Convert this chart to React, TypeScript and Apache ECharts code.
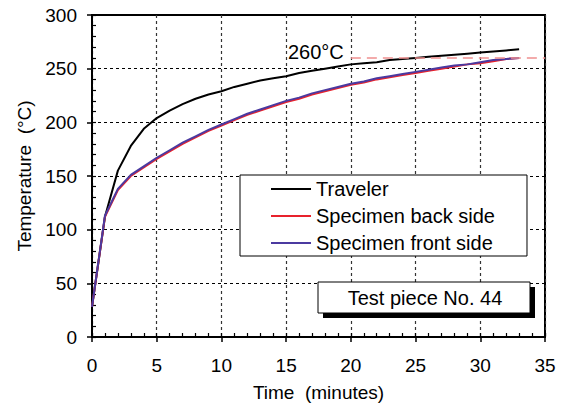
import React, { useEffect, useRef } from "react";
import * as echarts from "echarts";

const minutes = [0,1,2,3,4,5,6,7,8,9,10,11,12,13,14,15,16,17,18,19,20,21,22,23,24,25,26,27,28,29,30,31,32,33];
const traveler = [28,112,155,178,194,204,211,217,222,226,229,233,236,239,241,243,246,248,250,252,254,255,256,258,259,260,261,262,263,264,265,266,267,268];
const backSide = [28,112,137,150,158,166,173,180,186,192,197,202,207,211,215,219,222,226,229,232,235,237,240,242,244,246,248,250,252,254,255,257,259,260];
const frontSide = [28,113,138,151,159,167,174,181,187,193,198,203,208,212,216,220,223,227,230,233,236,238,241,243,245,247,249,251,253,254,256,258,259,260];
const seriesNames = ["Traveler", "Specimen back side", "Specimen front side"];
const refLevel = 260;
const refStart = 20;
const refEnd = 35;
const refLabel = "260°C";
const boxText = "Test piece No. 44";

const FONT = "Liberation Sans, Arial, sans-serif";

export default function App() {
  const ref = useRef<HTMLDivElement>(null);
  useEffect(() => {
    if (!ref.current) return;
    const chart = echarts.init(ref.current, undefined, { renderer: "svg" });
    const pair = (ys: number[]) => minutes.map((m, i) => [m, ys[i]]);
    chart.setOption({
      animation: false,
      textStyle: { fontFamily: FONT },
      grid: { left: 92, right: 17, top: 15, bottom: 72, show: true, borderColor: "#000", borderWidth: 2, backgroundColor: "transparent" },
      xAxis: [
        {
          type: "value", min: 0, max: 35, interval: 5,
          name: "Time  (minutes)", nameLocation: "middle", nameGap: 46,
          nameTextStyle: { fontSize: 19, color: "#000", fontFamily: FONT },
          axisLine: { show: true, lineStyle: { color: "#000", width: 2 } },
          axisTick: { show: true, inside: false, length: 5, lineStyle: { color: "#000", width: 1.5 } },
          axisLabel: { fontSize: 19, color: "#000", margin: 19, fontFamily: FONT },
          splitLine: { show: true, lineStyle: { color: "#333", type: [3, 3], width: 1.2 } },
        },
        {
          type: "value", min: 0, max: 35, interval: 1, position: "bottom",
          axisLine: { show: false }, axisLabel: { show: false }, splitLine: { show: false },
          axisTick: { show: true, inside: true, length: 4, lineStyle: { color: "#000", width: 1.2 } },
        },
      ],
      yAxis: [
        {
          type: "value", min: 0, max: 300, interval: 50,
          name: "Temperature  (°C)", nameLocation: "middle", nameGap: 58, nameRotate: 90,
          nameTextStyle: { fontSize: 19, color: "#000", fontFamily: FONT },
          axisLine: { show: true, lineStyle: { color: "#000", width: 2 } },
          axisTick: { show: true, inside: false, length: 5, lineStyle: { color: "#000", width: 1.5 } },
          axisLabel: { fontSize: 19, color: "#000", margin: 15, fontFamily: FONT },
          splitLine: { show: true, lineStyle: { color: "#000", type: [3, 3], width: 1 } },
        },
        {
          type: "value", min: 0, max: 300, interval: 10, position: "left",
          axisLine: { show: false }, axisLabel: { show: false }, splitLine: { show: false },
          axisTick: { show: true, inside: true, length: 4, lineStyle: { color: "#000", width: 1.2 } },
        },
      ],
      legend: {
        show: true, orient: "vertical", left: 240, top: 175,
        data: seriesNames,
        icon: "rect", itemWidth: 40, itemHeight: 2, itemGap: 7,
        padding: [4, 32, 3, 31],
        backgroundColor: "#fff", borderColor: "#000", borderWidth: 1,
        textStyle: { fontSize: 20, color: "#000", fontFamily: FONT },
      },
      series: [
        { name: seriesNames[0], type: "line", data: pair(traveler), symbol: "none", lineStyle: { color: "#000", width: 2 }, itemStyle: { color: "#000" }, z: 3 },
        {
          name: seriesNames[1], type: "line", data: pair(backSide), symbol: "none", lineStyle: { color: "#e8222c", width: 2 }, itemStyle: { color: "#e8222c" }, z: 3,
          markLine: {
            silent: true, symbol: "none", label: { show: false },
            lineStyle: { color: "#f09090", type: [10, 6], width: 1.5 },
            data: [[{ coord: [refStart, refLevel] }, { coord: [refEnd, refLevel] }]],
          },
        },
        { name: seriesNames[2], type: "line", data: pair(frontSide), symbol: "none", lineStyle: { color: "#4b3aa0", width: 2 }, itemStyle: { color: "#4b3aa0" }, z: 4 },
      ],
      graphic: [
        { type: "text", left: 288, top: 42, z: 10, style: { text: refLabel, fontSize: 20, fill: "#000", fontFamily: FONT } },
        { type: "rect", shape: { x: 323, y: 287, width: 212, height: 31 }, style: { fill: "#000" }, z: 10 },
        { type: "rect", shape: { x: 318, y: 282, width: 212, height: 31 }, style: { fill: "#fff", stroke: "#000", lineWidth: 1 }, z: 11 },
        { type: "text", x: 425, y: 298, z: 12, style: { text: boxText, fontSize: 20, fill: "#000", fontFamily: FONT, align: "center", verticalAlign: "middle" } },
      ],
    });
    return () => chart.dispose();
  }, []);
  return <div ref={ref} style={{ width: 562, height: 409, position: "absolute", left: 0, top: 0 }} />;
}
